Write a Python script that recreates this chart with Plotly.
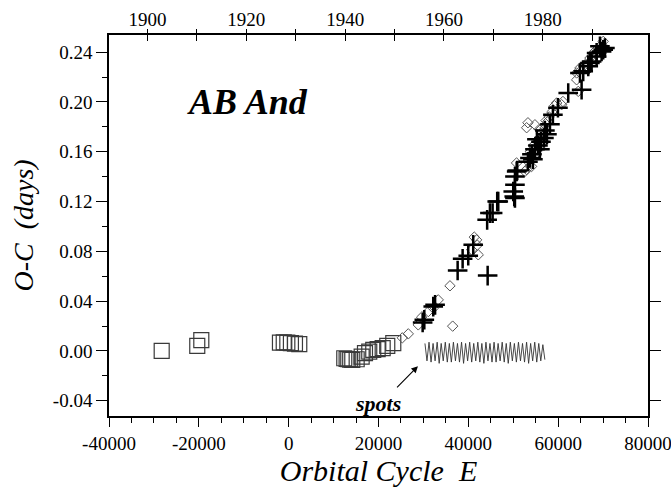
import plotly.graph_objects as go

# ---------------- data ----------------
sq_E = [-28270, -20350, -19450, -1940, -1100, -300, 500, 1400, 2360,
        12380, 12900, 13270, 13700, 14160, 15140, 16250, 16990, 17940,
        18830, 19810, 20930, 21950, 23290]
sq_y = [0.0000, 0.0040, 0.0086, 0.0067, 0.0068, 0.0066, 0.0062, 0.0058, 0.0054,
        -0.0059, -0.0065, -0.0067, -0.0070, -0.0072, -0.0067, -0.0046, -0.0018, -0.0006,
        0.0008, 0.0014, 0.0022, 0.0040, 0.0062]

dm_E = [25300, 26630, 28850, 29610, 31080, 32190, 33300, 35910, 36510,
        40740, 41320, 41850, 42210, 42000, 50730, 52960, 52600, 54090,
        53270, 53270, 52980, 54830, 57050, 57720, 59660, 60770, 61060,
        55500, 56200, 54500, 55000, 56800, 58000, 58600, 53800, 55800,
        57300, 59200, 64470, 64110, 64110, 64840, 66000, 67070, 67800,
        68300, 69670, 70030]
dm_y = [0.0105, 0.0137, 0.0209, 0.0271, 0.0316, 0.0343, 0.0410, 0.0523, 0.0199,
        0.0812, 0.0914, 0.0892, 0.0772, 0.0850, 0.1510, 0.1457, 0.1442, 0.1482,
        0.1522, 0.1833, 0.1793, 0.1817, 0.1791, 0.1844, 0.1992, 0.1978, 0.2004,
        0.1700, 0.1750, 0.1650, 0.1580, 0.1680, 0.1880, 0.1920, 0.1600, 0.1780,
        0.1850, 0.1970, 0.2085, 0.2233, 0.2178, 0.2273, 0.2300, 0.2353, 0.2394,
        0.2410, 0.2460, 0.2487]

cr_E = [29830, 30200, 32190, 32600, 37620, 38730, 39980, 41090, 44300,
        44190, 45410, 44810, 46430, 46660, 50000, 50220, 50380, 50380,
        50380, 50760, 50890, 53270, 54160, 54830, 55500, 56170, 56830,
        57500, 55940, 54380, 53720, 55270, 57050, 58170, 58830, 59950,
        62240, 65220, 64850, 65580, 66700, 67070, 67450, 68560, 68560,
        69670, 70030, 70410, 69300]
cr_y = [0.0228, 0.0250, 0.0356, 0.0370, 0.0646, 0.0740, 0.0764, 0.0852, 0.0605,
        0.1053, 0.1107, 0.1107, 0.1200, 0.1200, 0.1281, 0.1241, 0.1228, 0.1335,
        0.1401, 0.1442, 0.1449, 0.1520, 0.1580, 0.1620, 0.1650, 0.1680, 0.1710,
        0.1740, 0.1620, 0.1540, 0.1550, 0.1700, 0.1770, 0.1820, 0.1897, 0.1954,
        0.2072, 0.2098, 0.2233, 0.2246, 0.2286, 0.2313, 0.2326, 0.2366, 0.2394,
        0.2406, 0.2420, 0.2434, 0.2447]

spots_E = [30340, 30790, 31250, 31700, 32150, 32600, 33060, 33510, 33960, 34410,
           34870, 35320, 35770, 36220, 36680, 37130, 37580, 38030, 38490, 38940,
           39390, 39840, 40300, 40750, 41200, 41650, 42110, 42560, 43010, 43460,
           43920, 44370, 44820, 45270, 45730, 46180, 46630, 47080, 47540, 47990,
           48440, 48890, 49350, 49800, 50250, 50700, 51160, 51610, 52060, 52510,
           52970, 53420, 53870, 54320, 54780, 55230, 55680, 56130, 56590, 57040]
spots_y = [0.006, -0.008, 0.007, -0.009, 0.006, -0.008, 0.007, -0.010, 0.006, -0.008,
           0.007, -0.009, 0.006, -0.009, 0.007, -0.008, 0.006, -0.009, 0.007, -0.010,
           0.006, -0.008, 0.007, -0.009, 0.006, -0.008, 0.007, -0.009, 0.006, -0.010,
           0.007, -0.008, 0.006, -0.009, 0.007, -0.009, 0.006, -0.008, 0.007, -0.009,
           0.006, -0.010, 0.007, -0.008, 0.006, -0.009, 0.007, -0.008, 0.006, -0.009,
           0.007, -0.010, 0.006, -0.008, 0.007, -0.009, 0.006, -0.008, 0.005, -0.007]

year_ticks = [1900, 1910, 1920, 1930, 1940, 1950, 1960, 1970, 1980, 1990]
year_labels = ["1900", "", "1920", "", "1940", "", "1960", "", "1980", ""]
y_ticks = [-0.04, 0.00, 0.04, 0.08, 0.12, 0.16, 0.20, 0.24]
y_labels = ["-0.04", "0.00", "0.04", "0.08", "0.12", "0.16", "0.20", "0.24"]
x_ticks = [-40000, -20000, 0, 20000, 40000, 60000, 80000]
x_labels = ["-40000", "-20000", "0", "20000", "40000", "60000", "80000"]

XR = [-40000, 80000]
YR = [-0.0523, 0.2538]
YEAR_R = [1892.2, 2001.3]
FONT = "Liberation Serif, serif"

fig = go.Figure()
fig.add_trace(go.Scatter(x=sq_E, y=sq_y, mode="markers",
                         marker=dict(symbol="square-open", size=15, color="#3a3a3a",
                                     line=dict(width=1.2, color="#3a3a3a"))))
fig.add_trace(go.Scatter(x=dm_E, y=dm_y, mode="markers",
                         marker=dict(symbol="diamond-open", size=8, color="#555555",
                                     line=dict(width=1, color="#555555"))))
fig.add_trace(go.Scatter(x=cr_E, y=cr_y, mode="markers",
                         marker=dict(symbol="cross-thin-open", size=14, color="black",
                                     line=dict(width=2.5, color="black"))))
fig.add_trace(go.Scatter(x=spots_E, y=spots_y, mode="lines",
                         line=dict(color="#333333", width=0.9)))
# invisible traces to activate secondary axes
fig.add_trace(go.Scatter(x=[YEAR_R[0]], y=[YR[0]], xaxis="x2", yaxis="y",
                         mode="markers", marker=dict(opacity=0), hoverinfo="skip"))
fig.add_trace(go.Scatter(x=[YEAR_R[0]], y=[YR[0]], xaxis="x3", yaxis="y",
                         mode="markers", marker=dict(opacity=0), hoverinfo="skip"))
fig.add_trace(go.Scatter(x=[XR[0]], y=[YR[0]], xaxis="x", yaxis="y2",
                         mode="markers", marker=dict(opacity=0), hoverinfo="skip"))

fig.add_annotation(x=28780, y=-0.0123, ax=23800, ay=-0.0305, xref="x", yref="y",
                   axref="x", ayref="y", showarrow=True, arrowhead=2, arrowsize=1.2,
                   arrowwidth=1.1, arrowcolor="black", text="")
fig.add_annotation(x=19880, y=-0.0426, xref="x", yref="y", showarrow=False,
                   text="<b><i>spots</i></b>", font=dict(family=FONT, size=22, color="black"))
fig.add_annotation(x=-9170, y=0.200, xref="x", yref="y", showarrow=False,
                   text="<b><i>AB And</i></b>", font=dict(family=FONT, size=36, color="black"))

fig.update_layout(
    width=671, height=497, showlegend=False,
    margin=dict(l=109, r=23, t=35, b=81),
    paper_bgcolor="white", plot_bgcolor="white",
    font=dict(family=FONT, size=19, color="black"),
    xaxis=dict(range=XR, tickvals=x_ticks, ticktext=x_labels, ticks="outside", ticklen=9,
               tickwidth=1.3, tickcolor="black", showline=True, linecolor="black",
               linewidth=1.5, showgrid=False, zeroline=False, ticklabeloverflow="allow",
               automargin=False,
               tickfont=dict(family=FONT, size=19, color="black"),
               minor=dict(dtick=5000, tick0=0, ticks="outside", ticklen=5, tickwidth=1.2,
                          tickcolor="black"),
               title=dict(text="<i>Orbital Cycle  E</i>",
                          font=dict(family=FONT, size=30, color="black"), standoff=4)),
    yaxis=dict(range=YR, tickvals=y_ticks, ticktext=y_labels, ticks="outside", ticklen=11,
               tickwidth=1.3, tickcolor="black", showline=True, linecolor="black",
               linewidth=1.5, showgrid=False, zeroline=False, automargin=False,
               tickfont=dict(family=FONT, size=19, color="black"),
               minor=dict(tickvals=[-0.02, 0.02, 0.06, 0.10, 0.14, 0.18, 0.22],
                          ticks="outside", ticklen=5, tickwidth=1.2, tickcolor="black"),
               title=dict(text="<i>O-C  (days)</i>",
                          font=dict(family=FONT, size=28, color="black"), standoff=11)),
    xaxis2=dict(range=YEAR_R, overlaying="x", side="top", anchor="y", automargin=False,
                tickvals=year_ticks, ticktext=year_labels, ticks="inside", ticklen=6,
                tickwidth=1.3, tickcolor="black", showline=True, linecolor="black",
                linewidth=1.5, showgrid=False, zeroline=False,
                tickfont=dict(family=FONT, size=19, color="black")),
    xaxis3=dict(range=YEAR_R, overlaying="x", side="top", anchor="y", automargin=False,
                tickvals=year_ticks, showticklabels=False, ticks="outside", ticklen=5,
                tickwidth=1.3, tickcolor="black", showline=False, showgrid=False,
                zeroline=False),
    yaxis2=dict(range=YR, overlaying="y", side="right", anchor="x", automargin=False,
                tickvals=y_ticks, showticklabels=False, ticks="outside", ticklen=11,
                tickwidth=1.3, tickcolor="black", showline=True, linecolor="black",
                linewidth=1.5, showgrid=False, zeroline=False),
)

fig.write_html("out.html")
